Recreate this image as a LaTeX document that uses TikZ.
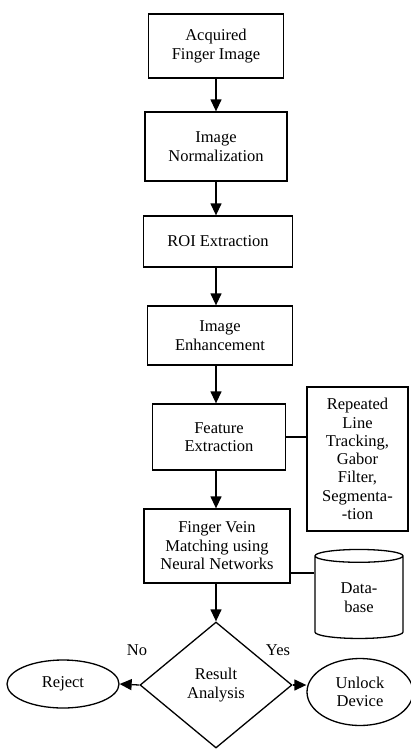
\documentclass[tikz,border=0pt]{standalone}
\usepackage{fontspec}
\setmainfont{Liberation Serif}
\usetikzlibrary{shapes.geometric,arrows.meta}
\tikzset{stepbox/.style={draw, line width=1.3pt, align=center, inner sep=0pt}}
\tikzset{flow/.style={line width=1.3pt, -{Triangle[length=12pt,width=11pt]}}}

\begin{document}
\begin{tikzpicture}
[x=1pt, y=-1pt, font=\fontsize{16.5}{18.5}\selectfont]
\useasboundingbox (0,0) rectangle (411,753);
\node (acq) at (216,46)[stepbox, minimum width=135pt, minimum height=64pt]{Acquired\\Finger Image};
\node (norm) at (216,146.5)[stepbox, minimum width=142pt, minimum height=69pt]{Image\\Normalization};
\node (roi) at (218,241.5)[stepbox, minimum width=149pt, minimum height=51pt]{ROI Extraction};
\node (enh) at (220,335.5)[stepbox, minimum width=145pt, minimum height=59pt]{Image\\Enhancement};
\node (feat) at (219,437)[stepbox, minimum width=133pt, minimum height=66pt]{Feature\\Extraction};
\node (side) at (357.5,459)[stepbox, minimum width=101pt, minimum height=144pt,
  font=\fontsize{16.5}{18.3}\selectfont]{Repeated\\Line\\Tracking,\\Gabor\\Filter,\\Segmenta-\\-tion};
\node (match) at (217,546)[stepbox, minimum width=146pt, minimum height=74pt]{Finger Vein\\Matching using\\Neural Networks};
\node (db) at (359,597.5)[stepbox, cylinder, shape border rotate=90, aspect=0.35,
  minimum width=88pt, minimum height=89pt]{Data-\\base};
\node (dec) at (216,685)[stepbox, diamond, minimum width=152pt, minimum height=126pt]{Result\\Analysis};
\node (rej) at (63,684)[stepbox, ellipse, minimum width=112pt, minimum height=48pt]{Reject};
\node (unl) at (360,692)[stepbox, ellipse, minimum width=106pt, minimum height=67pt]{Unlock\\Device};
\node (nolbl) at (137,650){No};
\node (yeslbl) at (278,650){Yes};

\draw[flow] (acq.south -| 216,0) -- (norm.north -| 216,0);
\draw[flow] (norm.south -| 216,0) -- (roi.north -| 216,0);
\draw[flow] (roi.south -| 216,0) -- (enh.north -| 216,0);
\draw[flow] (enh.south -| 216,0) -- (feat.north -| 216,0);
\draw[flow] (feat.south -| 216,0) -- (match.north -| 216,0);
\draw[flow] (match.south -| 216,0) -- (dec.north);
\draw[flow] (dec.west) -- (rej.east);
\draw[flow] (dec.east) -- (dec.east -| unl.west);

\draw[line width=1.3pt] (feat.east) -- (feat.east -| side.west);
\coordinate (dblink) at ([yshift=-27pt]match.east);
\draw[line width=1.3pt] (dblink) -- (dblink -| db.west);
\end{tikzpicture}
\end{document}
